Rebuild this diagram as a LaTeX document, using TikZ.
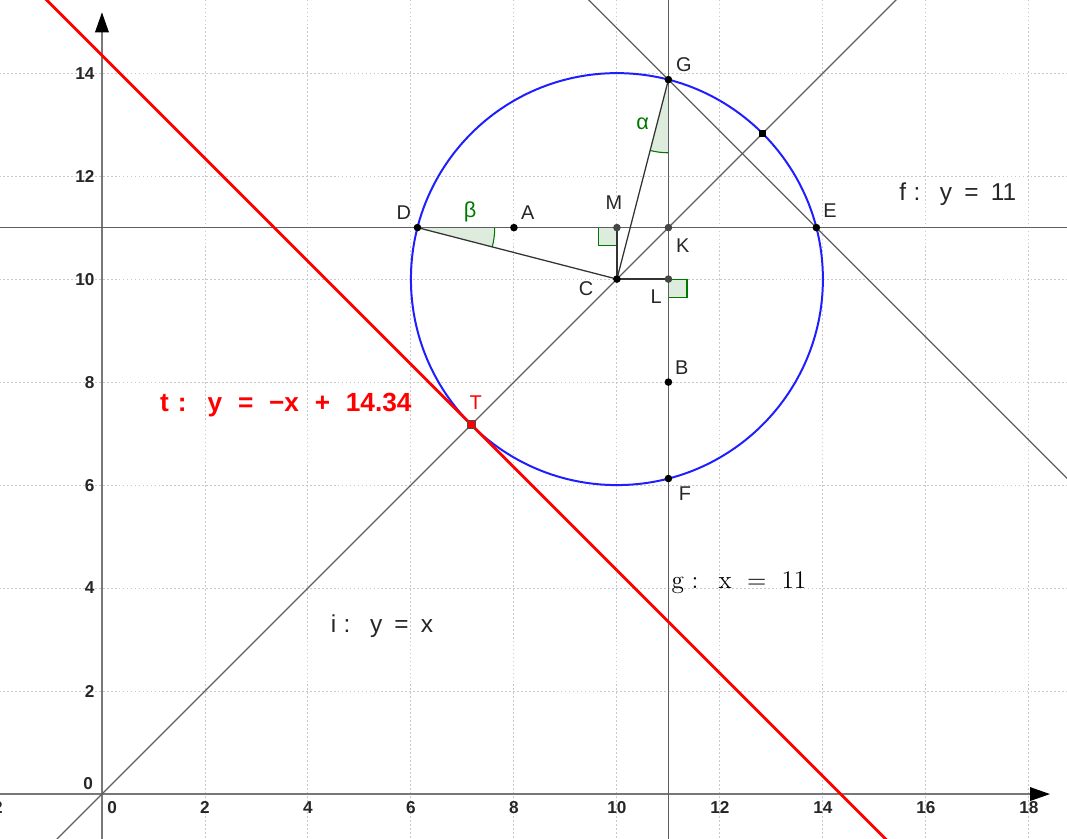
\documentclass[tikz,border=0pt]{standalone}
\usepackage{fontspec}
\newfontfamily\lsans{Liberation Sans}
\usetikzlibrary{arrows.meta}
\definecolor{lingray}{RGB}{95,95,95}
\definecolor{axgray}{RGB}{120,120,120}
\definecolor{gridc}{RGB}{200,200,200}
\definecolor{circblue}{RGB}{30,30,255}
\definecolor{anggreen}{RGB}{0,120,0}
\definecolor{angfill}{RGB}{222,236,222}
\definecolor{ptgray}{RGB}{70,70,70}
\tikzset{
  gridline/.style={gridc, line width=0.5pt, dash pattern=on 1pt off 1.2pt},
  axisline/.style={axgray, line width=0.8pt, -{Triangle[length=11pt,width=7.5pt,color=black]}},
  geoline/.style={lingray, line width=0.7pt},
  seg/.style={black!80, line width=0.7pt},
  pt/.style={circle, fill=black, inner sep=0pt, minimum size=4.2pt},
  ptg/.style={circle, fill=ptgray, inner sep=0pt, minimum size=4.2pt},
  sqpt/.style={rectangle, fill=black, inner sep=0pt, minimum size=4.2pt},
  ptlabel/.style={font=\lsans\fontsize{11}{13}\selectfont, text=black!85, inner sep=0pt},
  ticklab/.style={font=\lsans\bfseries\fontsize{9.5}{11}\selectfont, text=black!85, inner sep=0pt},
  linelab/.style={font=\lsans\fontsize{13.5}{16}\selectfont, text=black!85, inner sep=0pt},
  anglab/.style={font=\lsans\fontsize{12}{14}\selectfont, text=anggreen, inner sep=0pt},
  rasq/.style={draw=anggreen, fill=angfill, line width=0.6pt},
}
\begin{document}
\begin{tikzpicture}[x=1cm,y=1cm]
\useasboundingbox (-1.98,-0.854) rectangle (18.74,15.42);
\clip (-1.98,-0.854) rectangle (18.74,15.42);
% grid
\foreach \x in {-2,2,4,...,18} \draw[gridline] (\x,-1) -- (\x,16);
\foreach \y in {2,4,...,14} \draw[gridline] (-3,\y) -- (19,\y);
% axes
\coordinate (xs) at (-2.1,0);
\coordinate (xe) at (18.41,0);
\coordinate (ys) at (0,-1);
\coordinate (ye) at (0,15.18);
\draw[axisline] (xs) -- (xe);
\draw[axisline] (ys) -- (ye);
% tick labels
\foreach \x in {2,4,...,18} \node[ticklab] (tx\x) at (\x,-0.27) {\x};
\node[ticklab] (tx0) at (0.2,-0.27) {0};
\node[ticklab] (txm2) at (-2.12,-0.27) {−2};
\foreach \y in {2,4,...,14} \node[ticklab, anchor=east] (ty\y) at (-0.14,\y) {\y};
\node[ticklab, anchor=east] (ty0) at (-0.17,0.2) {0};
% points
\coordinate (C) at (10,10);
\coordinate (D) at (6.127,11);
\coordinate (E) at (13.873,11);
\coordinate (G) at (11,13.873);
\coordinate (F) at (11,6.127);
\coordinate (A) at (8,11);
\coordinate (M) at (10,11);
\coordinate (K) at (11,11);
\coordinate (L) at (11,10);
\coordinate (B) at (11,8);
\coordinate (T) at (7.172,7.172);
\coordinate (H) at (12.828,12.828);
% line end points
\coordinate (f1) at (-3,11); \coordinate (f2) at (20,11);
\coordinate (g1) at (11,-1); \coordinate (g2) at (11,16);
\coordinate (i1) at (-2,-2); \coordinate (i2) at (17,17);
\coordinate (h1) at (8,16.873); \coordinate (h2) at (20,4.873);
\coordinate (t1) at (-3,17.344); \coordinate (t2) at (16,-1.656);
% angles (under the lines)
\fill[angfill] (D) -- ([shift={(0:1.5)}]D) arc[start angle=0, end angle=-14.48, radius=1.5] -- cycle;
\draw[anggreen, line width=0.6pt] ([shift={(0:1.5)}]D) arc[start angle=0, end angle=-14.48, radius=1.5];
\fill[angfill] (G) -- ([shift={(-90:1.42)}]G) arc[start angle=-90, end angle=-104.48, radius=1.42] -- cycle;
\draw[anggreen, line width=0.6pt] ([shift={(-90:1.42)}]G) arc[start angle=-90, end angle=-104.48, radius=1.42];
\filldraw[rasq] (M) rectangle ++(-0.35,-0.35);
\filldraw[rasq] (L) rectangle ++(0.36,-0.36);
% lines
\draw[geoline] (f1) -- (f2);
\draw[geoline] (g1) -- (g2);
\draw[geoline] (i1) -- (i2);
\draw[geoline] (h1) -- (h2);
% circle
\draw[circblue, line width=1.1pt] (C) circle[radius=4];
% tangent
\draw[red, line width=1.6pt] (t1) -- (t2);
% segments
\draw[seg] (D) -- (C);
\draw[seg] (C) -- (M);
\draw[seg] (C) -- (L);
\draw[seg] (C) -- (G);
% point marks
\foreach \p in {C,D,E,G,F,A,B} \node[pt] (d\p) at (\p) {};
\foreach \p in {M,K,L} \node[ptg] (d\p) at (\p) {};
\node[sqpt] (dH) at (H) {};
\node[rectangle, fill=red, draw=black!70, line width=0.4pt, inner sep=0pt, minimum size=4.5pt] (dT) at (T) {};
% labels
\node[ptlabel] (lG) at (11.30,14.17) {G};
\node[ptlabel] (lD) at (5.86,11.30) {D};
\node[ptlabel] (lA) at (8.27,11.30) {A};
\node[ptlabel] (lM) at (9.94,11.48) {M};
\node[ptlabel] (lE) at (14.14,11.32) {E};
\node[ptlabel] (lK) at (11.28,10.64) {K};
\node[ptlabel] (lC) at (9.40,9.81) {C};
\node[ptlabel] (lL) at (10.76,9.65) {L};
\node[ptlabel] (lB) at (11.26,8.29) {B};
\node[ptlabel] (lF) at (11.32,5.83) {F};
\node[ptlabel, text=red] (lT) at (7.26,7.61) {T};
\node[anglab] (lbeta) at (7.15,11.30) {β};
\node[anglab] (lalpha) at (10.50,13.01) {α};
\node[linelab] (lf) at (16.62,11.65) {f\hspace{0.3em}:\hspace{0.8em}y\hspace{0.5em}=\hspace{0.5em}11};
\node[font=\fontsize{14}{16}\selectfont, text=black, inner sep=0pt] (lg) at (12.37,4.10) {g\hspace{0.3em}:\hspace{0.8em}x\hspace{0.6em}=\hspace{0.6em}11};
\node[linelab] (li) at (5.44,3.26) {i\hspace{0.3em}:\hspace{0.8em}y\hspace{0.5em}=\hspace{0.5em}x};
\node[font=\lsans\bfseries\fontsize{14.5}{17}\selectfont, text=red, inner sep=0pt] (lt) at (3.57,7.55) {t\hspace{0.35em}:\hspace{0.8em}y\hspace{0.6em}=\hspace{0.6em}−x\hspace{0.6em}+\hspace{0.6em}14.34};
\end{tikzpicture}
\end{document}
